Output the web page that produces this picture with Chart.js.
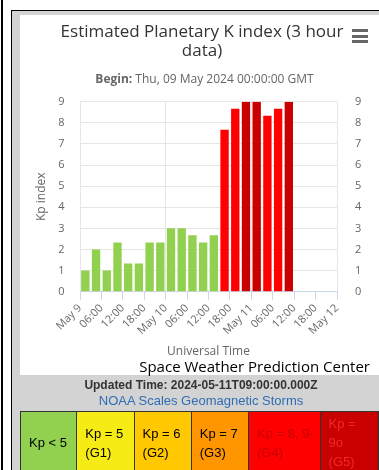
<!DOCTYPE html>
<html><head><meta charset="utf-8">
<script src="https://cdn.jsdelivr.net/npm/chart.js@4.4.1/dist/chart.umd.min.js"></script>
<style>
html,body{margin:0;padding:0;width:379px;height:470px;overflow:hidden;background:#fff;font-family:"Open Sans",sans-serif;}
#vline{position:absolute;left:1px;top:0;width:2px;height:470px;background:#000;}
#box{position:absolute;left:11px;top:10px;width:400px;height:480px;border-left:1px solid #000;border-top:1px solid #000;background:#d3d3d3;}
#white{position:absolute;left:20px;top:15px;width:359px;height:360px;background:#fff;}
#chartwrap{position:absolute;left:20px;top:15px;width:359px;height:360px;}
#title{position:absolute;left:20px;top:21px;width:364px;text-align:center;font-size:17px;line-height:19px;color:#333;}
#subtitle{position:absolute;left:20px;top:72px;width:369px;text-align:center;font-size:12px;line-height:14px;color:#666;white-space:nowrap;}
#credit{position:absolute;right:9px;top:356px;font-size:15px;line-height:20px;color:#000;white-space:nowrap;}
#menu{position:absolute;left:352px;top:29px;width:16px;}
#menu div{height:3px;background:#666;margin-bottom:2.5px;}
#updated{position:absolute;left:20px;top:377px;width:362px;text-align:center;font-family:"Liberation Sans",Arial,sans-serif;font-weight:bold;font-size:12px;line-height:16px;color:#333;}
#noaa{position:absolute;left:20px;top:393px;width:362px;text-align:center;font-family:"Liberation Sans",Arial,sans-serif;font-size:13px;line-height:16px;color:#2f6db5;}
table{position:absolute;left:20px;top:411px;border-collapse:collapse;table-layout:fixed;font-family:"Liberation Sans",Arial,sans-serif;font-size:13px;line-height:19px;}
td{border:1px solid #333;height:62px;padding:0 0 0 8px;vertical-align:middle;text-align:left;box-sizing:border-box;white-space:nowrap;overflow:hidden;}
</style></head>
<body>
<div id="vline"></div>
<div id="box"></div>
<div id="white"></div>
<div id="chartwrap"><canvas id="c" width="359" height="360"></canvas></div>
<div id="title">Estimated Planetary K index (3 hour<br>data)</div>
<div id="subtitle"><b>Begin:</b> Thu, 09 May 2024 00:00:00 GMT</div>
<div id="menu"><div></div><div></div><div></div></div>
<div id="credit">Space Weather Prediction Center</div>
<div id="updated">Updated Time: 2024-05-11T09:00:00.000Z</div>
<div id="noaa">NOAA Scales Geomagnetic Storms</div>
<table><colgroup><col style="width:57px"><col style="width:58px"><col style="width:58px"><col style="width:58px"><col style="width:72px"><col style="width:60px"></colgroup><tr>
<td style="background:#92d050;color:#000">Kp &lt; 5</td>
<td style="background:#f6eb14;color:#000">Kp = 5<br>(G1)</td>
<td style="background:#ffc800;color:#000">Kp = 6<br>(G2)</td>
<td style="background:#ff9600;color:#000">Kp = 7<br>(G3)</td>
<td style="background:#ff0000;color:#c80000">Kp = 8, 9-<br>(G4)</td>
<td style="background:#c80000;color:#f02828">Kp =<br>9o<br>(G5)</td>
</tr></table>
<script>
// 3-hour interval start times (UTC)
const intervalStarts = ["05-09 00:00","05-09 03:00","05-09 06:00","05-09 09:00","05-09 12:00","05-09 15:00","05-09 18:00","05-09 21:00",
  "05-10 00:00","05-10 03:00","05-10 06:00","05-10 09:00","05-10 12:00","05-10 15:00","05-10 18:00","05-10 21:00",
  "05-11 00:00","05-11 03:00","05-11 06:00","05-11 09:00"];
const kpValues = [1.00, 2.00, 1.00, 2.33, 1.33, 1.33, 2.33, 2.33,
  3.00, 3.00, 2.67, 2.33, 2.67, 7.67, 8.67, 9.00,
  9.00, 8.33, 8.67, 9.00];
const xTickLabels = ["May 9","06:00","12:00","18:00","May 10","06:00","12:00","18:00","May 11","06:00","12:00","18:00","May 12"];
const yTicks = [0,1,2,3,4,5,6,7,8,9];

function hoursFrom(s){ // hours since May 9 00:00, centered in 3h interval
  const [md, hm] = s.split(" ");
  const day = parseInt(md.split("-")[1],10);
  const h = parseInt(hm.split(":")[0],10);
  return (day-9)*24 + h + 1.5;
}
function kpColor(v){
  if (v >= 9) return "#c80000";
  if (v >= 7.67) return "#ff0000";
  if (v >= 6.67) return "#ff9600";
  if (v >= 5.67) return "#ffc800";
  if (v >= 4.67) return "#f6eb14";
  return "#92d050";
}
const pts = intervalStarts.map((s,i)=>({x:hoursFrom(s), y:kpValues[i]}));
const font = {family:"Open Sans", size:11};
new Chart(document.getElementById("c"), {
  type:"bar",
  data:{datasets:[{data:pts, backgroundColor:kpValues.map(kpColor), borderWidth:0,
    barPercentage:1, categoryPercentage:0.78, xAxisID:"x", yAxisID:"y"}]},
  options:{
    responsive:false, animation:false,
    layout:{autoPadding:false, padding:{top:86.7,left:0,right:0,bottom:0}},
    plugins:{legend:{display:false}, tooltip:{enabled:false}, title:{display:false}},
    scales:{
      x:{type:"linear", min:0, max:72, offset:false,
        afterFit(s){ s.height = 83.3; },
        afterBuildTicks(s){ s.ticks = xTickLabels.map((l,i)=>({value:i*6})); },
        ticks:{stepSize:6, autoSkip:false, minRotation:45, maxRotation:45, color:"#666", font, padding:2,
          callback:(v,i)=>xTickLabels[i]},
        grid:{offset:false, drawTicks:true, tickLength:8, tickColor:"#ccd6eb",
          color:(c)=> (c.tick && c.tick.value % 24 === 0) ? "#e6e6e6" : "rgba(0,0,0,0)", lineWidth:1},
        border:{display:true, color:"#ccd6eb"},
        title:{display:true, text:"Universal Time", color:"#666", font:{family:"Open Sans", size:12}, padding:{top:0,bottom:16}}
      },
      y:{position:"left", min:0, max:9,
        afterFit(s){ s.width = 60; },
        afterBuildTicks(s){ s.ticks = yTicks.map(v=>({value:v})); },
        ticks:{color:"#666", font, padding:15.5},
        grid:{color:"#e6e6e6", drawTicks:false},
        border:{display:false},
        title:{display:true, text:"Kp index", color:"#666", font:{family:"Open Sans", size:12}, padding:{top:14,bottom:0}}
      },
      y2:{position:"right", min:0, max:9,
        afterFit(s){ s.width = 42; },
        afterBuildTicks(s){ s.ticks = yTicks.map(v=>({value:v})); },
        ticks:{color:"#666", font, padding:18},
        grid:{drawOnChartArea:false, drawTicks:false},
        border:{display:false}
      }
    }
  }
});
</script>
</body></html>
